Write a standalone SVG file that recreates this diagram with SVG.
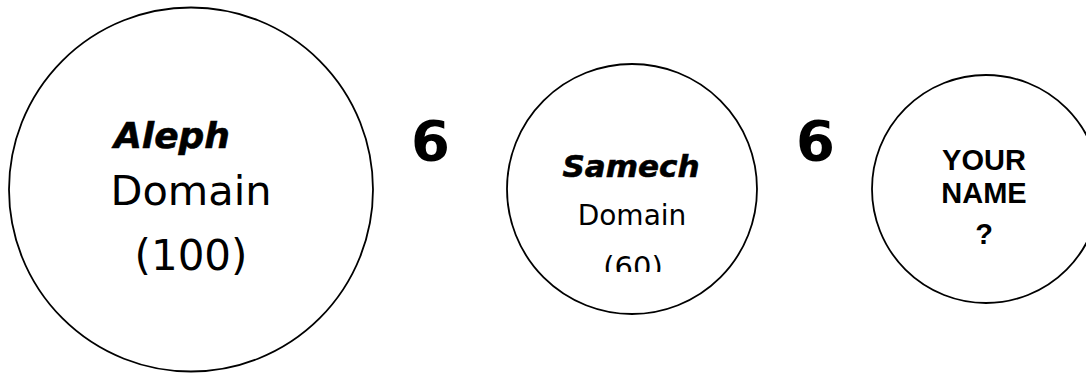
<svg xmlns="http://www.w3.org/2000/svg" width="1086" height="373" viewBox="0 0 1086 373">
<style>
.ring{fill:#fff;stroke:#000;stroke-width:1.8}
.title{font-family:"DejaVu Sans",Verdana,sans-serif;font-weight:bold;font-style:italic;text-anchor:middle;fill:#000;stroke:#000;stroke-width:0.6}
.body{font-family:"DejaVu Sans",Verdana,sans-serif;text-anchor:middle;fill:#000}
.six{font-family:"DejaVu Sans",Verdana,sans-serif;font-weight:bold;font-size:56px;text-anchor:middle;fill:#000}
.name{font-family:"Liberation Sans",Arial,sans-serif;font-weight:bold;font-size:29px;text-anchor:middle;fill:#000}
</style>
<defs>
<clipPath id="clipSamech"><rect x="540" y="130" width="190" height="142"/></clipPath>
</defs>
<rect width="1086" height="373" fill="#fff"/>
<g id="connectors"></g>
<g id="node-aleph">
<circle class="ring" cx="191" cy="189.5" r="182"/>
<text class="title" x="172" y="148" font-size="36">Aleph</text>
<text class="body" x="191" y="205" font-size="41.5">Domain</text>
<text class="body" x="191" y="270" font-size="42">(100)</text>
</g>
<g id="label-six-1"><text class="six" x="430.5" y="160">6</text></g>
<g id="node-samech">
<circle class="ring" cx="632" cy="189" r="125"/>
<g clip-path="url(#clipSamech)">
<text class="title" x="631" y="177" font-size="31">Samech</text>
<text class="body" x="632" y="225" font-size="28">Domain</text>
<text class="body" x="633" y="277" font-size="29">(60)</text>
</g>
</g>
<g id="label-six-2"><text class="six" x="815.5" y="160">6</text></g>
<g id="node-your-name">
<circle class="ring" cx="986" cy="189" r="114"/>
<text class="name" x="984" y="170">YOUR</text>
<text class="name" x="984" y="203">NAME</text>
<text class="name" x="984" y="244">?</text>
</g>
</svg>
